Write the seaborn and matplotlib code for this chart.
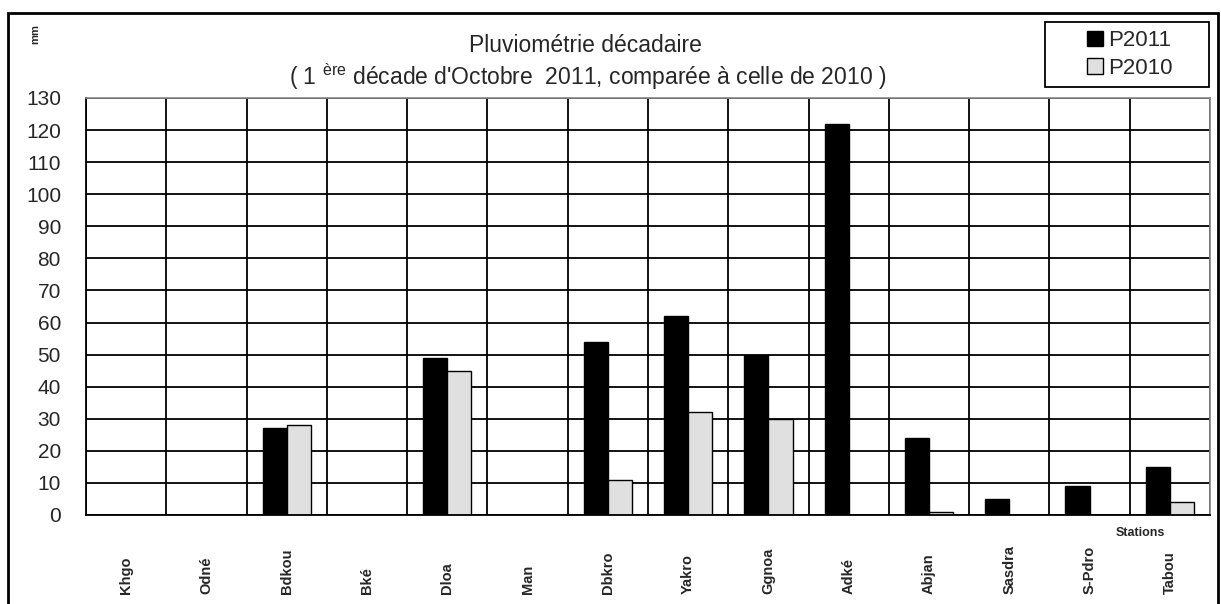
import matplotlib
matplotlib.use("Agg")
import matplotlib.pyplot as plt
import seaborn as sns
import pandas as pd
import numpy as np
from matplotlib.patches import Rectangle
from matplotlib.ticker import FixedLocator

stations = ["Khgo", "Odné", "Bdkou", "Bké", "Dloa", "Man", "Dbkro", "Yakro",
            "Ggnoa", "Adké", "Abjan", "Sasdra", "S-Pdro", "Tabou"]
p2011 = [0, 0, 27, 0, 49, 0, 54, 62, 50, 122, 24, 5, 9, 15]
p2010 = [0, 0, 28, 0, 45, 0, 11, 32, 30, 0, 1, 0, 0, 4]
series = ["P2011", "P2010"]
y_ticks = list(range(0, 131, 10))

df = pd.DataFrame({
    "station": stations * 2,
    "value": p2011 + p2010,
    "serie": [series[0]] * len(stations) + [series[1]] * len(stations),
})

sns.set_style("white")
plt.rcParams["font.family"] = ["Liberation Sans", "DejaVu Sans"]

W, H = 1221, 604
fig = plt.figure(figsize=(W / 100, H / 100), dpi=100)
ax = fig.add_axes([86 / W, 1 - 515 / H, (1210 - 86) / W, (515 - 98) / H])

sns.barplot(data=df, x="station", y="value", hue="serie", hue_order=series,
            palette=["black", "#e0e0e0"], edgecolor="black", linewidth=1.0,
            width=0.6, ax=ax, legend=True, saturation=1)

n = len(stations)
ax.set_xlim(-0.5, n - 0.5)
ax.set_ylim(0, 130)
ax.set_yticks(y_ticks)
ax.set_xlabel("")
ax.set_ylabel("")

# grid
ax.yaxis.grid(True, color="black", linewidth=1.3)
ax.xaxis.set_minor_locator(FixedLocator(np.arange(-0.5, n, 1.0)))
ax.xaxis.grid(True, which="minor", color="black", linewidth=1.3)
ax.xaxis.grid(False, which="major")
ax.set_axisbelow(True)

ax.tick_params(axis="x", which="major", length=0, labelsize=10.5, rotation=90, pad=57)
ax.tick_params(axis="x", which="minor", length=5, width=1.2, color="black", direction="out")
ax.tick_params(axis="y", which="major", length=6, width=1.2, color="black",
               labelsize=15, direction="out", pad=12)
for lab in ax.get_xticklabels():
    lab.set_fontweight("bold")
    lab.set_va("bottom")

for side in ["left", "bottom"]:
    ax.spines[side].set_color("black")
    ax.spines[side].set_linewidth(1.3)
for side in ["top", "right"]:
    ax.spines[side].set_color("#888888")
    ax.spines[side].set_linewidth(1.2)

# legend (frame drawn separately to match the wide box)
handles, labels = ax.get_legend_handles_labels()
ax.get_legend().remove()
fig.patches.append(Rectangle((1045 / W, 1 - 87 / H), (1209 - 1045) / W, 65 / H,
                             transform=fig.transFigure, fill=True, facecolor="white",
                             edgecolor="black", linewidth=1.3, zorder=5))
leg = fig.legend(handles, labels, loc="center",
                 bbox_to_anchor=(1130 / W, 1 - 54.5 / H), frameon=False,
                 fontsize=16, handlelength=0.7, handleheight=0.7,
                 handletextpad=0.25, borderpad=0.0, labelspacing=0.3)
leg.set_zorder(6)

# titles
fig.text(585 / W, 1 - 45 / H, "Pluviométrie décadaire", ha="center", va="center", fontsize=16.5)
fig.text(588 / W, 1 - 77 / H,
         r"( 1 $^{\mathregular{ère}}$ décade d'Octobre  2011, comparée à celle de 2010 )",
         ha="center", va="center", fontsize=16.5)
fig.text(35 / W, 1 - 34 / H, "mm", rotation=90, ha="center", va="center",
         fontsize=8, fontweight="bold")
fig.text(1140 / W, 1 - 533 / H, "Stations", ha="center", va="center",
         fontsize=9, fontweight="bold")

# outer border
fig.patches.append(Rectangle((8 / W, -0.05), (1218 - 8) / W, 1.05 - 13 / H,
                             transform=fig.transFigure, fill=False,
                             edgecolor="black", linewidth=2))

fig.savefig("out.png", dpi=100, facecolor="white")
